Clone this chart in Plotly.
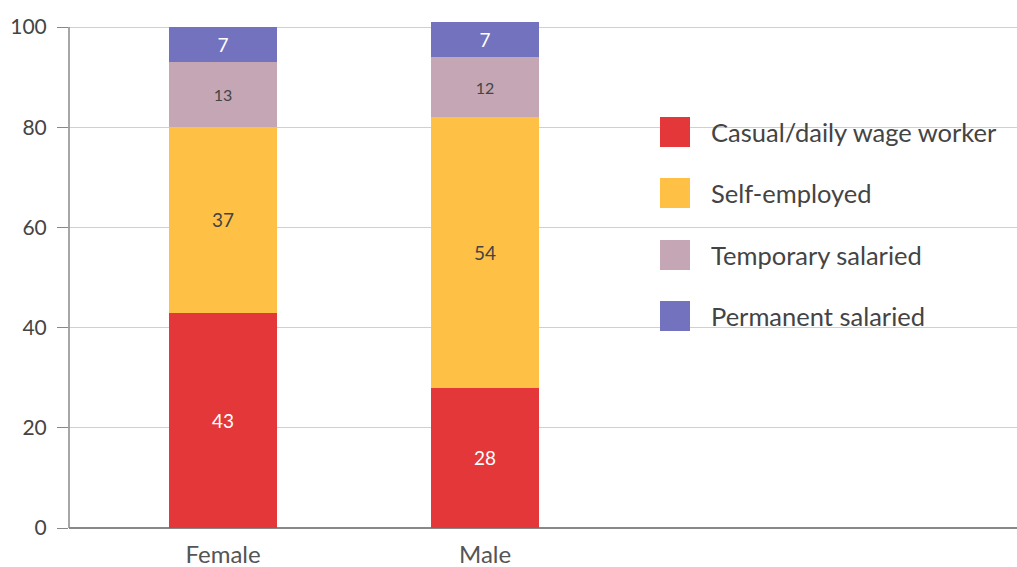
import plotly.graph_objects as go

categories = ["Female", "Male"]
series_names = ["Casual/daily wage worker", "Self-employed", "Temporary salaried", "Permanent salaried"]
casual = [43, 28]
self_employed = [37, 54]
temporary = [13, 12]
permanent = [7, 7]
values = [casual, self_employed, temporary, permanent]
colors = ["#E4373A", "#FFC145", "#C5A6B4", "#7272BE"]
text_colors = ["white", "#444444", "#444444", "white"]
text_sizes = [19, 19, 16, 19]
y_ticks = [0, 20, 40, 60, 80, 100]

FONT = "Lato"
W, H = 1017, 567
ml, mr, mt, mb = 69, 0, 2, 39

fig = go.Figure()
for name, vals, col, tc, ts in zip(series_names, values, colors, text_colors, text_sizes):
    fig.add_trace(go.Bar(
        x=categories, y=vals, name=name, marker=dict(color=col, line=dict(width=0)),
        width=0.412, text=[str(v) for v in vals], textposition="inside",
        insidetextanchor="middle", textangle=0, constraintext="none",
        textfont=dict(family=FONT, size=ts, color=tc), showlegend=False,
        hoverinfo="skip",
    ))

# y-axis line from 0 to 100
fig.add_shape(type="line", xref="paper", yref="y", x0=0, x1=0, y0=0, y1=100,
              line=dict(color="#888888", width=1.5))

# legend drawn manually (large squares)
pw = W - ml - mr
ph = H - mt - mb
legend_centers_px = [132, 193, 255, 316]
for name, col, cy in zip(series_names, colors, legend_centers_px):
    yc = (H - mb - cy) / ph
    fig.add_shape(type="rect", xref="paper", yref="paper",
                  x0=(660 - ml) / pw, x1=(690 - ml) / pw,
                  y0=yc - 15 / ph, y1=yc + 15 / ph,
                  fillcolor=col, line=dict(width=0))
    fig.add_annotation(xref="paper", yref="paper", x=(709 - ml) / pw, y=yc,
                       text=name, showarrow=False, xanchor="left", yanchor="middle",
                       font=dict(family=FONT, size=25.5, color="#444444"))

fig.update_layout(
    width=W, height=H, barmode="stack",
    margin=dict(l=ml, r=mr, t=mt, b=mb, pad=0, autoexpand=False),
    plot_bgcolor="white", paper_bgcolor="white",
    font=dict(family=FONT, color="#444444"),
    xaxis=dict(range=[-0.588, 3.03], showgrid=False, ticks="", showline=False,
               zeroline=False, ticklabelstandoff=10,
               tickfont=dict(size=24, color="#555555")),
    yaxis=dict(range=[0, 105], tickvals=y_ticks, ticks="outside", ticklen=11,
               tickcolor="#888888", showgrid=True, gridcolor="#D0D0D0", gridwidth=1,
               zeroline=True, zerolinecolor="#888888", zerolinewidth=1.5,
               showline=False, ticklabelstandoff=6,
               tickfont=dict(size=21, color="#444444")),
)

fig.write_html("out.html", config={"displayModeBar": False},
               post_script="document.body.style.margin='0';document.body.style.overflow='hidden';")
